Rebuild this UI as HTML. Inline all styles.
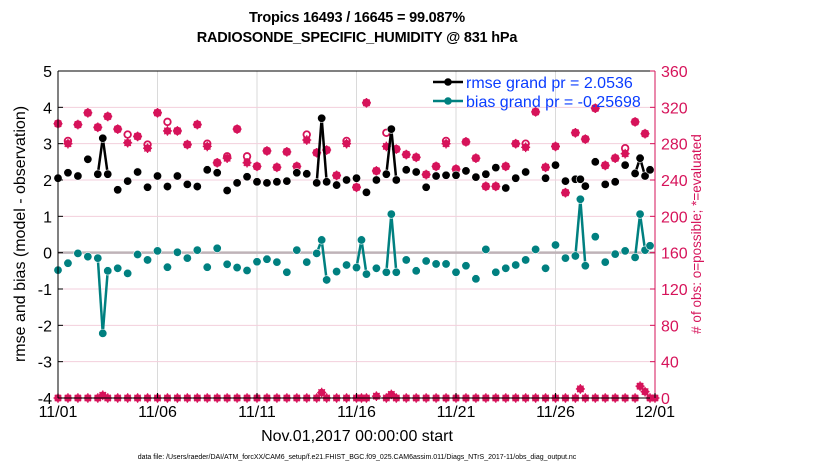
<!DOCTYPE html>
<html><head><meta charset="utf-8">
<style>
body{margin:0;background:#fff;}
svg{display:block;font-family:"Liberation Sans",Arial,sans-serif;}
</style></head>
<body>
<svg id="chart" width="830" height="470" viewBox="0 0 830 470" xmlns="http://www.w3.org/2000/svg">
  <text x="357" y="22" text-anchor="middle" font-size="14.5" font-weight="bold" letter-spacing="-0.2">Tropics 16493 / 16645 = 99.087%</text>
  <text x="357" y="42" text-anchor="middle" font-size="14.5" font-weight="bold" letter-spacing="-0.2">RADIOSONDE_SPECIFIC_HUMIDITY @ 831 hPa</text>
  <g id="grid"></g>
  <g id="marks"></g>
  <g id="axes"></g>
  <text transform="translate(25,234) rotate(-90)" text-anchor="middle" font-size="16">rmse and bias (model - observation)</text>
  <text transform="translate(701,234) rotate(-90)" text-anchor="middle" font-size="13.5" fill="#d6135a">&#35; of obs: o=possible; &#42;=evaluated</text>
  <text x="357" y="441" text-anchor="middle" font-size="16">Nov.01,2017 00:00:00 start</text>
  <text x="357" y="459" text-anchor="middle" font-size="7">data file: /Users/raeder/DAI/ATM_forcXX/CAM6_setup/f.e21.FHIST_BGC.f09_025.CAM6assim.011/Diags_NTrS_2017-11/obs_diag_output.nc</text>
  <g id="legend"></g>
</svg>
<script>
// ---- data ----
const xTickLabels = ["11/01","11/06","11/11","11/16","11/21","11/26","12/01"];
const xTickDays = [0,5,10,15,20,25,30];
const leftTicks = [-4,-3,-2,-1,0,1,2,3,4,5];
const rightTicks = [0,40,80,120,160,200,240,280,320,360];
const rmseTimes = [0,0.5,1,1.5,2,2.25,2.5,3,3.5,4,4.5,5,5.5,6,6.5,7,7.5,8,8.5,9,9.5,10,10.5,11,11.5,12,12.5,13,13.25,13.5,14,14.5,15,15.5,16,16.5,16.75,17,17.5,18,18.5,19,19.5,20,20.5,21,21.5,22,22.5,23,23.5,24.5,25,25.5,26,26.25,26.5,27,27.5,28,28.5,29,29.25,29.5,29.75];
const rmseValues = [2.05,2.2,2.11,2.57,2.16,3.15,2.16,1.73,1.97,2.22,1.8,2.11,1.82,2.11,1.88,1.82,2.28,2.2,1.71,1.92,2.09,1.95,1.92,1.95,1.97,2.2,2.17,1.92,3.7,1.95,1.86,2.0,2.05,1.66,2.0,2.16,3.4,2.0,2.28,2.22,1.8,2.11,2.13,2.13,2.25,2.08,2.16,2.34,1.78,2.05,2.22,2.05,2.41,1.97,2.02,2.02,1.83,2.5,1.88,1.95,2.41,2.18,2.6,2.11,2.28];
const biasTimes = [0,0.5,1,1.5,2,2.25,2.5,3,3.5,4,4.5,5,5.5,6,6.5,7,7.5,8,8.5,9,9.5,10,10.5,11,11.5,12,12.5,13,13.25,13.5,14,14.5,15,15.25,15.5,16,16.5,16.75,17,17.5,18,18.5,19,19.5,20,20.5,21,21.5,22,22.5,23,23.5,24,24.5,25,25.5,26,26.25,26.5,27,27.5,28,28.5,29,29.25,29.5,29.75];
const biasValues = [-0.48,-0.29,-0.02,-0.11,-0.15,-2.22,-0.5,-0.43,-0.57,-0.05,-0.2,0.05,-0.4,0.01,-0.15,0.07,-0.4,0.12,-0.32,-0.41,-0.49,-0.25,-0.18,-0.26,-0.54,0.07,-0.26,-0.02,0.35,-0.75,-0.52,-0.34,-0.41,0.35,-0.59,-0.43,-0.54,1.06,-0.54,-0.2,-0.5,-0.23,-0.31,-0.31,-0.54,-0.36,-0.72,0.09,-0.54,-0.43,-0.34,-0.2,0.09,-0.43,0.21,-0.15,-0.09,1.47,-0.36,0.44,-0.26,-0.04,0.05,-0.13,1.06,0.07,0.19];
const obsTimes = [0,0.5,1,1.5,2,2.5,3,3.5,4,4.5,5,5.5,6,6.5,7,7.5,8,8.5,9,9.5,10,10.5,11,11.5,12,12.5,13,13.5,14,14.5,15,15.5,16,16.5,17,17.5,18,18.5,19,19.5,20,20.5,21,21.5,22,22.5,23,23.5,24,24.5,25,25.5,26,26.5,27,27.5,28,28.5,29,29.5];
const evaluatedCounts = [302,280,301,314,298,310,296,281,288,275,314,294,294,279,301,277,259,264,296,259,255,272,254,271,255,284,270,273,245,280,232,325,250,277,274,268,265,246,255,280,252,282,264,233,233,255,280,276,315,254,277,226,292,285,319,256,264,269,304,291];
const possibleCounts = [302,283,301,314,298,310,296,290,288,279,314,304,294,279,301,280,259,266,296,266,255,272,254,271,255,290,270,273,245,283,232,325,250,292,274,268,265,246,255,283,252,282,264,233,233,255,280,280,315,254,277,226,292,285,319,256,264,275,304,291];
const extraTimes = [0,0.5,1,1.5,2,2.25,2.5,3,3.5,4,4.5,5,5.5,6,6.5,7,7.5,8,8.5,9,9.5,10,10.5,11,11.5,12,12.5,13,13.25,13.5,14,14.5,15,15.25,15.5,16,16.5,16.75,17,17.5,18,18.5,19,19.5,20,20.5,21,21.5,22,22.5,23,23.5,24,24.5,25,25.5,26,26.25,26.5,27,27.5,28,28.5,29,29.25,29.5,29.75,30];
const extraCounts = [0,0,0,0,0,3,0,0,0,0,0,0,0,0,0,0,0,0,0,0,0,0,0,0,0,0,0,0,6,0,0,0,0,0,0,2,0,4,0,0,0,0,0,0,0,0,0,0,0,0,0,0,0,0,0,0,0,10,0,0,0,0,0,0,13,7,0,0];

// ---- geometry ----
const X0=58,X1=655,Y0=71,Y1=398;
const NS="http://www.w3.org/2000/svg";
const RED="#d6135a",TEAL="#008080";
function xs(d){return X0+(X1-X0)*d/30;}
function yl(v){return Y1-(Y1-Y0)*(v+4)/9;}
function yr(n){return Y1-(Y1-Y0)*n/360;}
function mk(tag,attrs,parent){const e=document.createElementNS(NS,tag);for(const k in attrs)e.setAttribute(k,attrs[k]);parent.appendChild(e);return e;}
const grid=document.getElementById('grid'),marks=document.getElementById('marks'),axes=document.getElementById('axes'),legend=document.getElementById('legend');

// grid
xTickDays.forEach(d=>{const l=mk('line',{x1:xs(d),x2:xs(d),y1:Y0,y2:Y1,stroke:'#dadada','stroke-width':1},grid);

});
leftTicks.forEach(v=>{if(v===0)return;const l=mk('line',{x1:X0,x2:X1,y1:yl(v),y2:yl(v),stroke:'#f3cfdc','stroke-width':1},grid);

});
const zl=mk('line',{x1:X0,x2:X1,y1:yl(0),y2:yl(0),stroke:'#bfb3b8','stroke-width':2.5},grid);



function drawSeries(times,vals,color,name){
  const g=mk('g',{},marks);
  
  
  for(let i=1;i<times.length;i++){
    if(times[i]-times[i-1]<=0.26){
      const l=mk('line',{x1:xs(times[i-1]),y1:yl(vals[i-1]),x2:xs(times[i]),y2:yl(vals[i]),stroke:color,'stroke-width':2.5},g);
      
      
    }
  }
  times.forEach((t,i)=>{const c=mk('circle',{cx:xs(t),cy:yl(vals[i]),r:4.2,fill:color,stroke:'#fff','stroke-width':0.6},g);
    
    });
}
function star(x,y,parent,name){
  const g=mk('g',{},parent);
  
  
  mk('circle',{cx:x,cy:y,r:3.8,fill:RED},g);
  mk('path',{d:`M${x-4.5},${y}H${x+4.5}M${x},${y-4.8}V${y+4.8}M${x-3.2},${y-3.2}L${x+3.2},${y+3.2}M${x-3.2},${y+3.2}L${x+3.2},${y-3.2}`,stroke:RED,'stroke-width':1.3},g);
}
obsTimes.forEach((t,i)=>{
  const c=mk('circle',{cx:xs(t),cy:yr(possibleCounts[i]),r:3.3,fill:'none',stroke:RED,'stroke-width':1.8},marks);
  
  
  star(xs(t),yr(evaluatedCounts[i]),marks,'evaluated-obs-marker');
});
extraTimes.forEach((t,i)=>{star(xs(t),yr(extraCounts[i]),marks,'rejected-obs-marker');});
drawSeries(rmseTimes,rmseValues,'#000','rmse');
drawSeries(biasTimes,biasValues,TEAL,'bias');

// axes
const frame=[['M'+X0+','+Y0+'H'+X1,'#000','top-axis-line'],['M'+X0+','+Y0+'V'+Y1,'#000','left-axis-line'],['M'+X0+','+Y1+'H'+X1,'#000','bottom-axis-line'],['M'+X1+','+Y0+'V'+Y1,RED,'right-axis-line']];
frame.forEach(f=>{const p=mk('path',{d:f[0],stroke:f[1],'stroke-width':1,fill:'none'},axes);
  
  });
leftTicks.forEach(v=>{const y=yl(v);mk('line',{x1:X0,x2:X0+5,y1:y,y2:y,stroke:'#000'},axes);
  const t=mk('text',{x:X0-6,y:y+6,'text-anchor':'end','font-size':16},axes);t.textContent=v;
  
  });
rightTicks.forEach(n=>{const y=yr(n);mk('line',{x1:X1-5,x2:X1,y1:y,y2:y,stroke:RED},axes);
  const t=mk('text',{x:X1+6,y:y+6,'font-size':16,fill:RED},axes);t.textContent=n;
  
  });
xTickDays.forEach((d,i)=>{const x=xs(d);mk('line',{x1:x,x2:x,y1:Y1,y2:Y1-5,stroke:'#000'},axes);
  const t=mk('text',{x:x,y:Y1+19,'text-anchor':'middle','font-size':16},axes);t.textContent=xTickLabels[i];
  
  });

// legend
[['#000','rmse grand pr = 2.0536',82,'legend-entry-rmse'],[TEAL,'bias grand pr = -0.25698',101,'legend-entry-bias']].forEach(e=>{
  const g=mk('g',{},legend);
  
  
  mk('line',{x1:433,x2:463,y1:e[2],y2:e[2],stroke:e[0],'stroke-width':2.5},g);
  mk('circle',{cx:448,cy:e[2],r:3.8,fill:e[0]},g);
  const t=mk('text',{x:466,y:e[2]+6,'font-size':16,fill:'#0a3cff'},g);t.textContent=e[1];
});
</script>
</body></html>
